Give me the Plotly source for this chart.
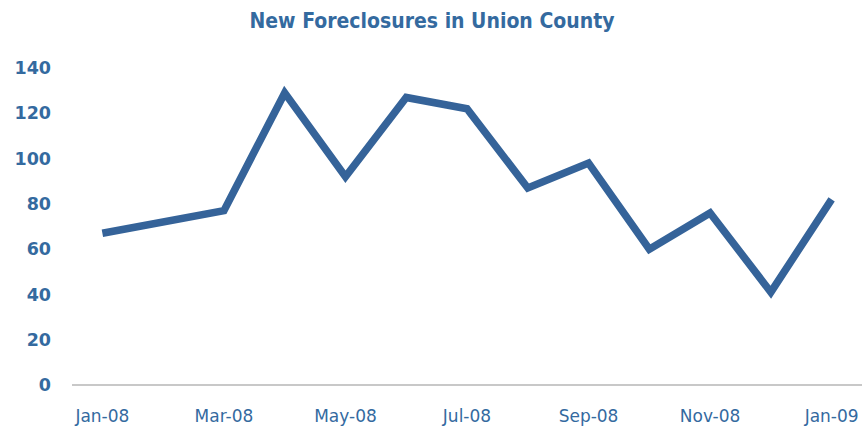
import plotly.graph_objects as go

months = ["Jan-08", "Feb-08", "Mar-08", "Apr-08", "May-08", "Jun-08", "Jul-08",
          "Aug-08", "Sep-08", "Oct-08", "Nov-08", "Dec-08", "Jan-09"]
foreclosures = [67, 72, 77, 129, 92, 127, 122, 87, 98, 60, 76, 41, 82]
x_ticks = ["Jan-08", "Mar-08", "May-08", "Jul-08", "Sep-08", "Nov-08", "Jan-09"]
y_ticks = [0, 20, 40, 60, 80, 100, 120, 140]

blue = "#356399"
text_blue = "#346A9F"

fig = go.Figure(go.Scatter(
    x=months, y=foreclosures, mode="lines",
    line=dict(color=blue, width=7.5, shape="linear"),
    hoverinfo="x+y",
))

fig.update_layout(
    width=864, height=428,
    margin=dict(l=72, r=2, t=68, b=43),
    paper_bgcolor="white", plot_bgcolor="white",
    showlegend=False,
    title=dict(
        text="<b>New Foreclosures in Union County</b>",
        x=0.5, xanchor="center", y=0.952, yanchor="middle",
        font=dict(family="DejaVu Sans Condensed, DejaVu Sans", size=21, color=text_blue),
    ),
    xaxis=dict(
        type="category", categoryorder="array", categoryarray=months,
        range=[-0.5, 12.5], automargin=False,
        tickvals=x_ticks, ticktext=x_ticks,
        showgrid=False, zeroline=False, showline=False,
        ticks="", ticklabelstandoff=19,
        tickfont=dict(family="DejaVu Sans", size=17, color=text_blue),
    ),
    yaxis=dict(
        range=[0, 140], tickvals=y_ticks, automargin=False,
        showgrid=False, zeroline=True, zerolinecolor="#C8C8C8", zerolinewidth=2,
        showline=False, ticks="", ticklabelstandoff=20,
        tickfont=dict(family="DejaVu Sans", size=17.5, color=text_blue, weight="bold"),
    ),
)

fig.write_html("out.html", config={"displayModeBar": False},
               post_script="document.body.style.margin='0';")
